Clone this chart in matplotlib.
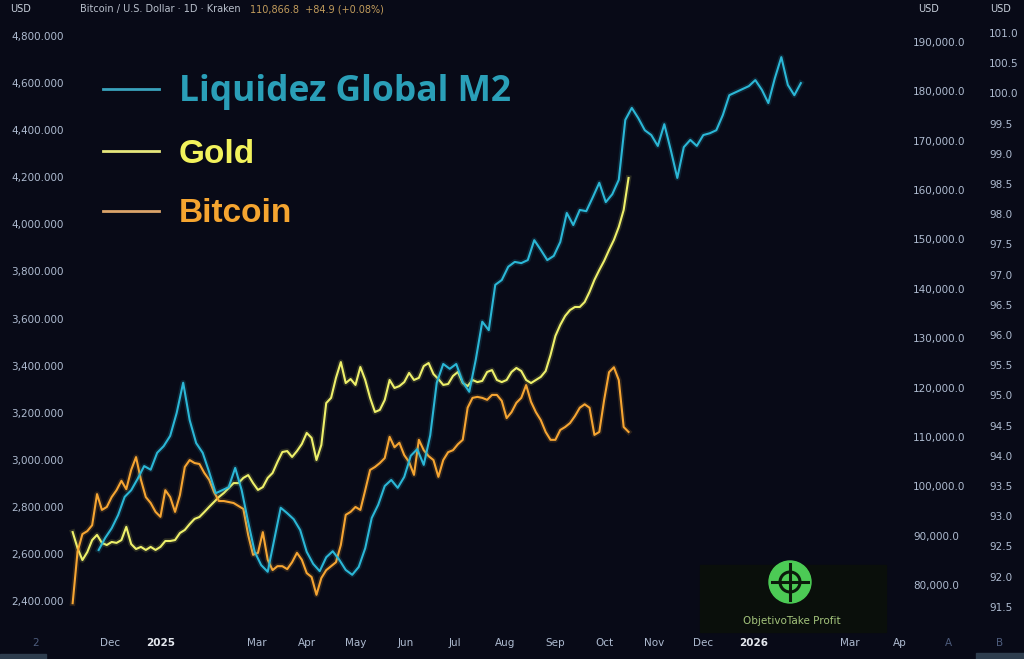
import numpy as np
import matplotlib
matplotlib.use("Agg")
import matplotlib.pyplot as plt
import matplotlib.dates as mdates
import matplotlib.patheffects as pe
from matplotlib.lines import Line2D
from matplotlib.patches import Circle, Rectangle

# --- data ---
# Bitcoin (thousand USD, sampled every 3 days from 2024-11-08)
btc_start = "2024-11-08"
btc_values = [
    76.3, 86.7, 90.3, 90.9, 92.1, 98.4, 95.2, 95.8, 97.8, 99.2,
    101.1, 99.4, 103.3, 105.9, 101.3, 97.8, 96.6, 94.8, 93.8, 99.2,
    97.8, 94.8, 98.2, 103.9, 105.3, 104.7, 104.5, 102.7, 101.3, 98.8,
    97.0, 97.0, 96.8, 96.6, 96.0, 95.4, 90.1, 86.1, 86.5, 90.7,
    85.1, 83.0, 83.8, 83.8, 83.2, 84.6, 86.5, 85.1, 82.4, 81.6,
    78.0, 81.4, 83.0, 83.8, 84.6, 88.1, 94.2, 94.8, 95.8, 95.2,
    99.2, 103.3, 103.9, 104.7, 105.7, 110.0, 107.9, 108.8, 106.3, 104.9,
    102.3, 109.4, 107.3, 106.1, 105.3, 101.9, 105.3, 106.9, 107.3, 108.5,
    109.4, 115.9, 117.9, 118.1, 117.9, 117.5, 118.5, 118.5, 117.3, 113.8,
    115.0, 116.9, 117.9, 120.5, 117.1, 115.0, 113.4, 111.0, 109.4, 109.4,
    111.4, 112.0, 112.8, 114.2, 115.9, 116.6, 115.9, 110.4, 111.0, 117.5,
    123.1, 124.1, 121.5, 112.0, 111.0,
]

# Gold (USD/oz, same dates as Bitcoin)
gold_values = [
    2693, 2625, 2574, 2608, 2659, 2681, 2647, 2638, 2651, 2647,
    2659, 2715, 2642, 2621, 2630, 2617, 2630, 2617, 2630, 2655,
    2655, 2659, 2689, 2702, 2727, 2749, 2757, 2778, 2800, 2821,
    2842, 2859, 2880, 2901, 2901, 2923, 2935, 2901, 2872, 2884,
    2923, 2944, 2991, 3033, 3037, 3012, 3037, 3067, 3114, 3093,
    2999, 3063, 3241, 3263, 3348, 3415, 3326, 3343, 3318, 3394,
    3339, 3263, 3203, 3212, 3254, 3339, 3305, 3313, 3330, 3369,
    3339, 3348, 3398, 3411, 3364, 3343, 3318, 3322, 3356, 3373,
    3326, 3313, 3339, 3330, 3335, 3373, 3381, 3339, 3330, 3339,
    3373, 3390, 3377, 3339, 3326, 3339, 3352, 3377, 3445, 3526,
    3573, 3611, 3636, 3649, 3649, 3670, 3713, 3764, 3806, 3845,
    3891, 3934, 3989, 4061, 4197,
]

# Global M2 liquidity (shifted forward, sampled every 4 days from 2024-11-24)
m2_start = "2024-11-24"
m2_values = [
    92.44, 92.64, 92.80, 93.02, 93.32, 93.43, 93.62, 93.83, 93.77, 94.05,
    94.16, 94.33, 94.71, 95.21, 94.59, 94.21, 94.05, 93.73, 93.38, 93.43,
    93.48, 93.80, 93.43, 92.90, 92.41, 92.19, 92.08, 92.61, 93.14, 93.05,
    92.95, 92.77, 92.41, 92.21, 92.09, 92.32, 92.42, 92.28, 92.11, 92.03,
    92.16, 92.47, 92.97, 93.19, 93.50, 93.60, 93.47, 93.65, 94.00, 94.11,
    93.85, 94.34, 95.21, 95.52, 95.44, 95.52, 95.22, 95.06, 95.59, 96.22,
    96.08, 96.83, 96.91, 97.13, 97.21, 97.19, 97.24, 97.57, 97.41, 97.24,
    97.31, 97.54, 98.02, 97.82, 98.07, 98.05, 98.28, 98.52, 98.20, 98.33,
    98.57, 99.56, 99.76, 99.59, 99.39, 99.31, 99.13, 99.49, 99.06, 98.60,
    99.11, 99.23, 99.13, 99.31, 99.34, 99.39, 99.64, 99.97, 100.02, 100.07,
    100.12, 100.22, 100.06, 99.84, 100.25, 100.60, 100.14, 99.97, 100.17,
]

gold_ticks = list(range(2400, 4801, 200))
btc_ticks = list(range(80000, 190001, 10000))
m2_ticks = [91.5 + 0.5 * i for i in range(20)]

x_tick_dates = ["2024-10-16", "2024-12-01", "2025-01-01", "2025-03-01", "2025-04-01",
                "2025-05-01", "2025-06-01", "2025-07-01", "2025-08-01", "2025-09-01",
                "2025-10-01", "2025-11-01", "2025-12-01", "2026-01-01", "2026-03-01",
                "2026-04-01", "2026-05-01", "2026-06-01"]
x_tick_labels = ["2", "Dec", "2025", "Mar", "Apr", "May", "Jun", "Jul", "Aug", "Sep",
                 "Oct", "Nov", "Dec", "2026", "Mar", "Ap", "A", "B"]

BG = "#080a17"
C_M2 = "#2bb7d6"
C_GOLD = "#eef06a"
C_BTC = "#f6a532"
TICK_C = "#aebbd0"

btc_dates = np.datetime64(btc_start) + np.arange(len(btc_values)) * np.timedelta64(3, "D")
m2_dates = np.datetime64(m2_start) + np.arange(len(m2_values)) * np.timedelta64(4, "D")

fig = plt.figure(figsize=(10.24, 6.59), dpi=100, facecolor=BG)
ax = fig.add_axes([0, 29 / 659, 1, 630 / 659])
ax.set_facecolor(BG)
ax_btc = ax.twinx()
ax_m2 = ax.twinx()

def glow(c):
    return [pe.Stroke(linewidth=4, foreground=c, alpha=0.15), pe.Normal()]

ax.plot(btc_dates, gold_values, color=C_GOLD, lw=1.5, path_effects=glow(C_GOLD))
ax_btc.plot(btc_dates, np.array(btc_values) * 1000, color=C_BTC, lw=1.5, path_effects=glow(C_BTC))
ax_m2.plot(m2_dates, m2_values, color=C_M2, lw=1.5, path_effects=glow(C_M2))

d0 = mdates.date2num(np.datetime64("2024-12-01"))
ax.set_xlim(d0 - 67.7, d0 + 562.3)
ax.set_ylim(2277, 4953)
ax_btc.set_ylim(70870, 198510)
ax_m2.set_ylim(91.116, 101.546)

for a in (ax, ax_btc, ax_m2):
    for s in a.spines.values():
        s.set_visible(False)

ax.set_yticks(gold_ticks, [f"{v:,.3f}" for v in gold_ticks])
ax.tick_params(axis="y", length=0, pad=-46, labelsize=7.5, labelcolor=TICK_C)
ax_btc.set_yticks(btc_ticks, [f"{v:,.1f}" for v in btc_ticks])
ax_btc.tick_params(axis="y", length=0, pad=-80, labelsize=7.5, labelcolor=TICK_C)
ax_m2.set_yticks(m2_ticks, [f"{v:.1f}" for v in m2_ticks])
ax_m2.tick_params(axis="y", length=0, pad=-25, labelsize=7.5, labelcolor=TICK_C)

ax.set_xticks([mdates.date2num(np.datetime64(d)) for d in x_tick_dates], x_tick_labels)
ax.tick_params(axis="x", length=0, pad=6, labelsize=7.5, labelcolor=TICK_C)
for lbl in ax.get_xticklabels():
    t = lbl.get_text()
    if t in ("2025", "2026"):
        lbl.set_fontweight("bold")
        lbl.set_color("#e4e8ee")
    elif t in ("2", "A", "B"):
        lbl.set_color("#4d5c7c")

# legend
handles = [Line2D([], [], color="#3aa3bd", lw=2),
           Line2D([], [], color="#e6e77c", lw=2),
           Line2D([], [], color="#dba46a", lw=2)]
leg = fig.legend(handles, ["Liquidez Global M2", "Gold", "Bitcoin"],
                 loc="upper left", bbox_to_anchor=(103 / 1024, 1 - 74 / 659),
                 frameon=False, borderpad=0, borderaxespad=0,
                 handlelength=1.67, handletextpad=0.6, labelspacing=0.86,
                 prop={"family": "Liberation Sans", "weight": "bold", "size": 24},
                 labelcolor=["#2a9fb8", "#f2f25c", "#f5a530"])
leg.get_texts()[0].set_fontfamily("Open Sans")
leg.get_texts()[0].set_fontsize(25.5)

# header, watermark and other chrome in pixel coordinates
ov = fig.add_axes([0, 0, 1, 1], facecolor="none")
ov.set_xlim(0, 1024)
ov.set_ylim(659, 0)
ov.axis("off")
ov.text(10, 9, "USD", color="#c8d0dc", fontsize=7, va="center")
ov.text(918, 9, "USD", color="#c8d0dc", fontsize=7, va="center")
ov.text(990, 9, "USD", color="#c8d0dc", fontsize=7, va="center")
ov.text(80, 9, "Bitcoin / U.S. Dollar · 1D · Kraken", color="#b9c0cc", fontsize=7, va="center")
ov.text(250, 9, "110,866.8  +84.9 (+0.08%)", color="#c29c5c", fontsize=7, va="center")

ov.add_patch(Rectangle((700, 565), 186, 67, color="#0a0f0b", zorder=1))
ov.add_patch(Circle((790, 582), 21, color="#4ccb55", zorder=2))
ov.add_patch(Circle((790, 582), 10, fill=False, ec="#0b1a0b", lw=2.2, zorder=3))
ov.plot([772, 808], [582, 582], color="#0b1a0b", lw=2.2, zorder=3)
ov.plot([790, 790], [564, 600], color="#0b1a0b", lw=2.2, zorder=3)
ov.text(792, 621, "ObjetivoTake Profit", color="#a4c47c", fontsize=7.5, ha="center", va="center", zorder=3)

ov.add_patch(Rectangle((0, 654), 46, 5, color="#2e3d4e"))
ov.add_patch(Rectangle((976, 653), 48, 6, color="#2e3d4e"))

fig.savefig("out.png", dpi=100, facecolor=BG)
